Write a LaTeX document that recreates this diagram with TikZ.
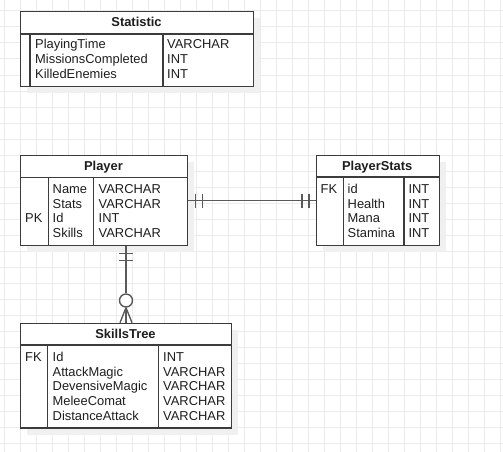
\documentclass[tikz,border=0pt]{standalone}
\usepackage{fontspec}
\setmainfont{Liberation Sans}
\usetikzlibrary{shadows,calc}
\definecolor{gridc}{HTML}{EBEBEB}
\definecolor{edgec}{HTML}{3C3C3C}
\definecolor{connc}{HTML}{5A5A5A}
\definecolor{txtc}{HTML}{1E1E1E}
\definecolor{shadc}{HTML}{F0F0F0}
\tikzset{
  entity/.style={draw=edgec, line width=1.4pt, fill=white, inner sep=0pt, anchor=north west,
    drop shadow={shadow xshift=6.5pt, shadow yshift=-6.5pt, fill=shadc, opacity=1}},
  divline/.style={draw=edgec, line width=1.4pt},
  connline/.style={draw=connc, line width=1.4pt},
  tx/.style={anchor=base west, inner sep=0pt, text=txtc, font=\fontsize{12.9}{15}\selectfont},
  ttl/.style={anchor=base, inner sep=0pt, text=txtc, font=\fontsize{12.9}{15}\selectfont\bfseries},
}
\begin{document}
\begin{tikzpicture}[x=1pt,y=-1pt]
\useasboundingbox (0,0) rectangle (503,452);
\fill[white] (0,0) rectangle (503,452);
% grid
\foreach \gx in {4,20,...,500} \draw[gridc, line width=1pt] (\gx,0) -- (\gx,452);
\foreach \gy in {11,27,...,451} \draw[gridc, line width=1pt] (0,\gy) -- (503,\gy);

% ---------- Statistic ----------
\node[entity, minimum width=233pt, minimum height=75pt] (stat) at (20,11) {};
\draw[divline] (20,34) -- (253,34);
\draw[divline] (30,34) -- (30,86);
\draw[divline] (163,34) -- (163,86);
\node[ttl] (statt) at (136.5,26.5) {Statistic};
\node[tx] (s1) at (35,48.5) {PlayingTime};
\node[tx] (s2) at (35,63.5) {MissionsCompleted};
\node[tx] (s3) at (35,78.5) {KilledEnemies};
\node[tx] (s1t) at (167,48.5) {VARCHAR};
\node[tx] (s2t) at (167,63.5) {INT};
\node[tx] (s3t) at (167,78.5) {INT};

% ---------- Player ----------
\node[entity, minimum width=167pt, minimum height=90pt] (player) at (20,155) {};
\draw[divline] (20,177.5) -- (187,177.5);
\draw[divline] (48.3,177.5) -- (48.3,245);
\draw[divline] (93.3,177.5) -- (93.3,245);
\node[ttl] (playert) at (103.5,170.5) {Player};
\node[tx] (pk) at (25,222.9) {PK};
\node[tx] (p1) at (52.5,193.5) {Name};
\node[tx] (p2) at (52.5,208.2) {Stats};
\node[tx] (p3) at (52.5,222.9) {Id};
\node[tx] (p4) at (52.5,237.6) {Skills};
\node[tx] (p1t) at (98.5,193.5) {VARCHAR};
\node[tx] (p2t) at (98.5,208.2) {VARCHAR};
\node[tx] (p3t) at (98.5,222.9) {INT};
\node[tx] (p4t) at (98.5,237.6) {VARCHAR};

% ---------- PlayerStats ----------
\node[entity, minimum width=122.5pt, minimum height=90pt] (pstats) at (316,155) {};
\draw[divline] (316,177) -- (438.5,177);
\draw[divline] (343.3,177) -- (343.3,245);
\draw[divline] (404,177) -- (404,245);
\node[ttl] (pstatst) at (377.25,170.5) {PlayerStats};
\node[tx] (fk1) at (320.5,193.5) {FK};
\node[tx] (q1) at (347.5,193.5) {id};
\node[tx] (q2) at (347.5,208.2) {Health};
\node[tx] (q3) at (347.5,222.9) {Mana};
\node[tx] (q4) at (347.5,237.6) {Stamina};
\node[tx] (q1t) at (408.3,193.5) {INT};
\node[tx] (q2t) at (408.3,208.2) {INT};
\node[tx] (q3t) at (408.3,222.9) {INT};
\node[tx] (q4t) at (408.3,237.6) {INT};

% ---------- SkillsTree ----------
\node[entity, minimum width=211pt, minimum height=104.6pt] (skills) at (20,322.7) {};
\draw[divline] (20,345) -- (231,345);
\draw[divline] (47.7,345) -- (47.7,427.3);
\draw[divline] (158.3,345) -- (158.3,427.3);
\node[ttl] (skillst) at (125.5,338.5) {SkillsTree};
\node[tx] (fk2) at (25,361.2) {FK};
\node[tx] (k1) at (52.5,361.2) {Id};
\node[tx] (k2) at (52.5,376) {AttackMagic};
\node[tx] (k3) at (52.5,390.8) {DevensiveMagic};
\node[tx] (k4) at (52.5,405.6) {MeleeComat};
\node[tx] (k5) at (52.5,420.4) {DistanceAttack};
\node[tx] (k1t) at (163,361.2) {INT};
\node[tx] (k2t) at (163,376) {VARCHAR};
\node[tx] (k3t) at (163,390.8) {VARCHAR};
\node[tx] (k4t) at (163,405.6) {VARCHAR};
\node[tx] (k5t) at (163,420.4) {VARCHAR};

% ---------- Player -- PlayerStats (one to one) ----------
\draw[connline] (player.east) -- (pstats.west);
\draw[connline] ($(player.east)+(7,-7)$) -- ++(0,14);
\draw[connline] ($(player.east)+(14,-7)$) -- ++(0,14);
\draw[connline] ($(pstats.west)+(-7,-7)$) -- ++(0,14);
\draw[connline] ($(pstats.west)+(-14,-7)$) -- ++(0,14);

% ---------- Player -- SkillsTree (one to zero-or-many) ----------
\node[circle, draw=connc, line width=1.4pt, fill=white, minimum size=13pt, inner sep=0pt] (zc) at (126,300.5) {};
\draw[connline] (player.south -| zc) -- (zc.north);
\draw[connline] ($(player.south -| zc)+(-7,7)$) -- ++(14,0);
\draw[connline] ($(player.south -| zc)+(-7,14)$) -- ++(14,0);
\draw[connline] (zc.south) -- (skills.north -| zc);
\draw[connline] (zc.south) -- ($(skills.north -| zc)+(-6,0)$);
\draw[connline] (zc.south) -- ($(skills.north -| zc)+(6,0)$);
\end{tikzpicture}
\end{document}
